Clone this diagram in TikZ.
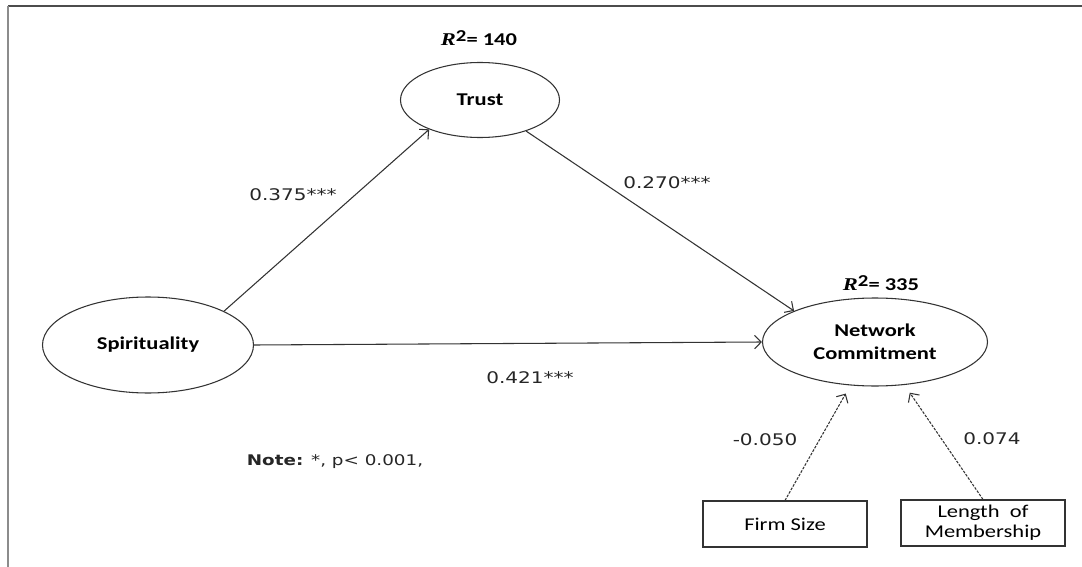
\documentclass[tikz,border=0pt]{standalone}
\usepackage{fontspec}
\usetikzlibrary{shapes.geometric,arrows.meta}
\newfontfamily\numfont[FakeStretch=1.25]{DejaVu Sans}
\newfontfamily\nodefont[FakeStretch=1.25]{Carlito}
\newfontfamily\rfont[FakeStretch=1.25]{Liberation Serif}
\newcommand{\rsq}[1]{{\rfont\bfseries\itshape R}\raisebox{0.55ex}{\nodefont\bfseries\fontsize{12.5}{12.5}\selectfont 2}{\nodefont\bfseries= #1}}

\begin{document}
\begin{tikzpicture}[x=0.75pt, y=-0.75pt,
    latent/.style ={ellipse, draw=black!80, line width=0.8pt, align=center, inner sep=0pt,
      font=\nodefont\bfseries\fontsize{13.5}{17}\selectfont},
    covariate/.style ={rectangle, draw=black!80, line width=0.8pt, align=center,
      minimum width=123pt, minimum height=34.5pt, font=\nodefont\fontsize{13.5}{15}\selectfont},
    coef/.style ={font=\numfont\fontsize{12}{14}\selectfont, text=black!85},
    effect/.style ={draw=black!80, line width=0.8pt, -{Straight Barb[length=5pt,width=10pt]}},
    rsqlabel/.style ={font=\fontsize{13.5}{15}\selectfont}]
   \useasboundingbox (0,0) rectangle (1082,567);
   \coordinate (TL) at (8,6);
   \coordinate (TR) at (1082,6);
   \coordinate (BL) at (8,567);
   \draw[black!70, line width=1pt] (TL) -- (TR);
   \draw[black!45, line width=1.5pt] (TL) -- (BL);
   \node[latent, minimum width=119.25pt, minimum height=56.25pt] (trust) at (480,100) {Trust};
   \node[latent, minimum width=158.25pt, minimum height=72pt] (spirit) at (148,345) {Spirituality};
   \node[latent, minimum width=168.75pt, minimum height=66pt] (commit) at (875,342) {Network\\Commitment};
   \node[covariate] (firm) at (785,524) {Firm Size};
   \node[covariate] (length) at (983,523) {Length~ of\\Membership};
   \node[rsqlabel] (rtrust) at (479,38) {\rsq{140}};
   \node[rsqlabel] (rcommit) at (881,283) {\rsq{335}};
   \draw[effect] (spirit.24) to (trust.210);
   \draw[effect] (trust.326) to (commit.159);
   \draw[effect] (spirit.east) to (commit.west);
   \draw[effect, dash pattern=on 2pt off 1pt, shorten >=7pt] (firm.north) to (commit);
   \draw[effect, dash pattern=on 2pt off 1pt, shorten >=7pt] (length.north) to (commit);
   \node[coef] (c1) at (293,195) {0.375***};
   \node[coef] (c2) at (667,183) {0.270***};
   \node[coef] (c3) at (530,378) {0.421***};
   \node[coef] (c4) at (765,440) {-0.050};
   \node[coef] (c5) at (992,439) {0.074};
   \node[coef, font=\numfont\fontsize{11}{13}\selectfont] (note) at (335,462) {\textbf{Note:} *, p< 0.001,};
 \end{tikzpicture}
\end{document}
